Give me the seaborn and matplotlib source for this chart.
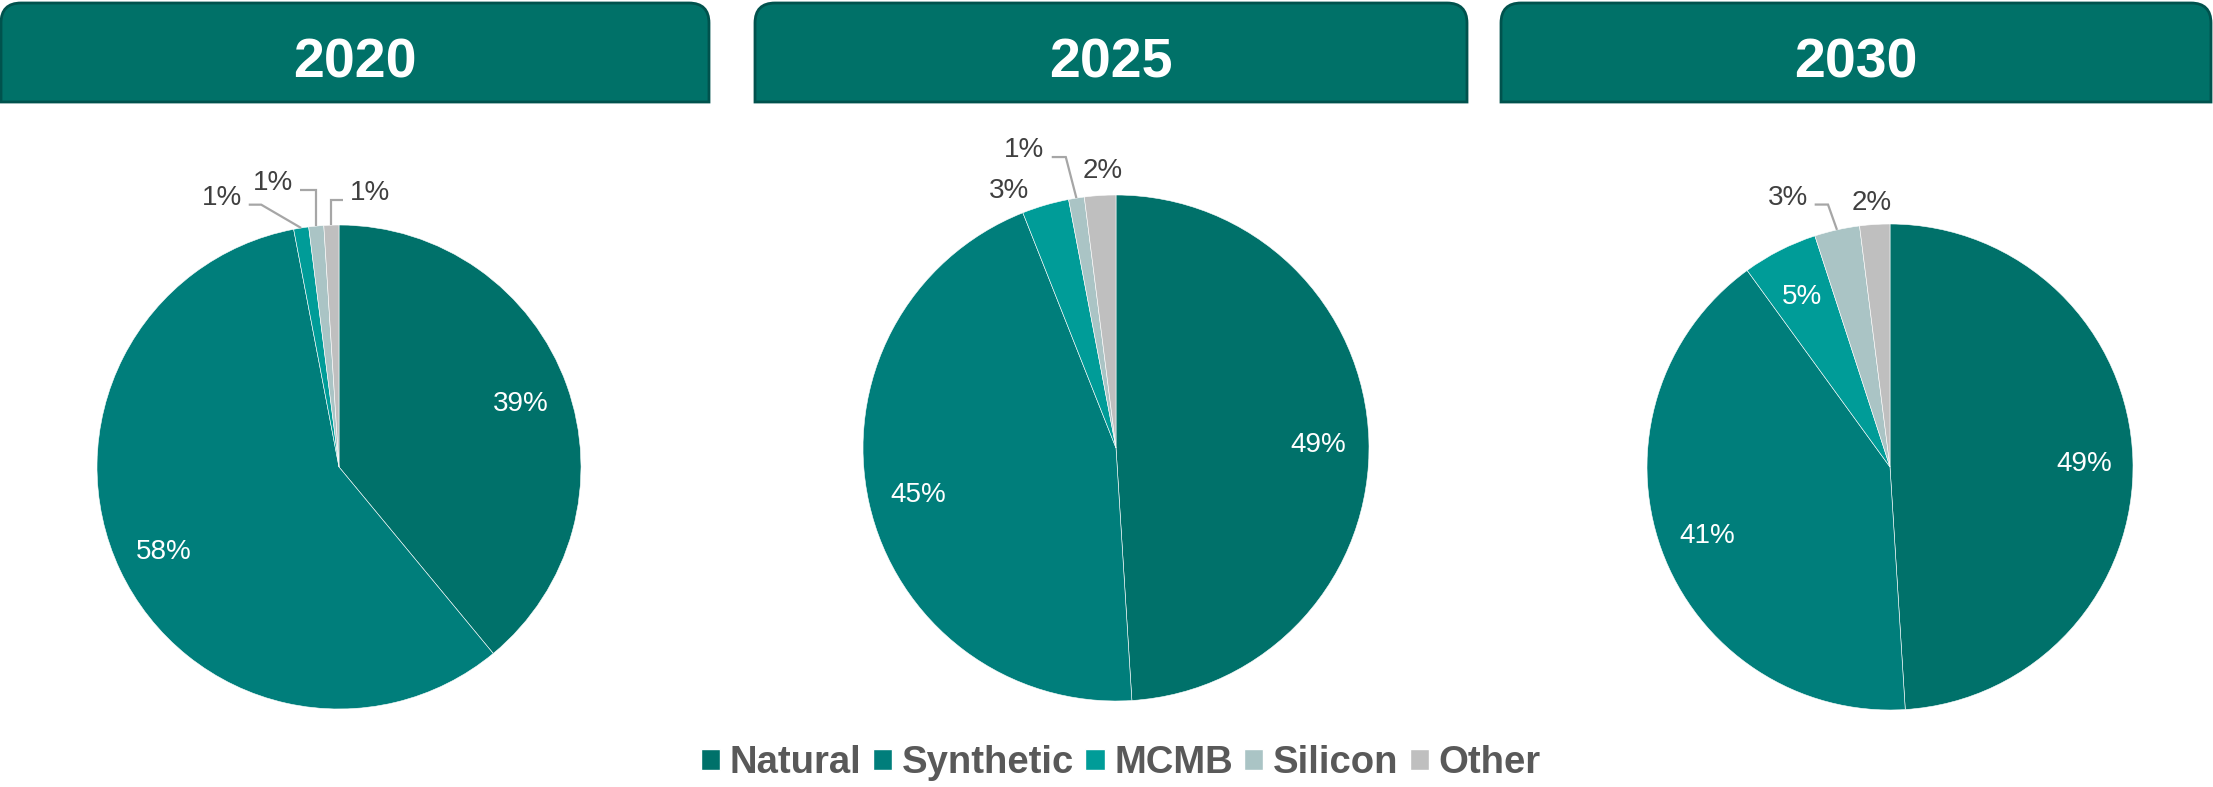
import numpy as np
import matplotlib
matplotlib.use("Agg")
import matplotlib.pyplot as plt
import seaborn as sns
from matplotlib.path import Path
from matplotlib.patches import PathPatch, Patch

# data
categories = ["Natural", "Synthetic", "MCMB", "Silicon", "Other"]
years = ["2020", "2025", "2030"]
share_2020 = [39, 58, 1, 1, 1]
share_2025 = [49, 45, 3, 1, 2]
share_2030 = [49, 41, 5, 3, 2]
colors = ["#00716A", "#007E7B", "#009C98", "#AAC4C5", "#BFBFBF"]

W, H = 2213, 787
sns.set_theme(style="white")
plt.rcParams["font.family"] = ["Liberation Sans", "DejaVu Sans"]
palette = sns.color_palette(colors)

fig = plt.figure(figsize=(W / 100, H / 100), dpi=100)
ax = fig.add_axes([0, 0, 1, 1])

# layout in pixels (y from top)
pie_centers = [(339, 467), (1116, 448), (1890, 467)]
pie_radii = [242, 253, 243]
header_spans = [(1, 709), (755, 1467), (1501, 2211)]
header_top, header_bottom = 3, 102

# outside labels: (x, y, elbow shift) in radius units, None = no leader
outside = [
    {"MCMB": (-0.483, 1.124, -0.165), "Silicon": (-0.273, 1.186, 0.0), "Other": (0.128, 1.145, 0.0)},
    {"MCMB": (-0.423, 1.028, None), "Silicon": (-0.364, 1.19, -0.042), "Other": (-0.051, 1.107, None)},
    {"Silicon": (-0.42, 1.12, -0.037), "Other": (-0.074, 1.099, None)},
]
cap = 10  # half cap height of the pct labels, px


def top_rounded(x0, x1, y0, y1, k):
    verts = [(x0, y0), (x0, y1 - k), (x0, y1), (x0 + k, y1), (x1 - k, y1),
             (x1, y1), (x1, y1 - k), (x1, y0), (x0, y0)]
    codes = [Path.MOVETO, Path.LINETO, Path.CURVE3, Path.CURVE3, Path.LINETO,
             Path.CURVE3, Path.CURVE3, Path.LINETO, Path.CLOSEPOLY]
    return Path(verts, codes)


for i, (year, vals) in enumerate(zip(years, [share_2020, share_2025, share_2030])):
    cx, cy = pie_centers[i]
    cy = H - cy
    r = pie_radii[i]
    wedges, _ = ax.pie(vals, colors=palette, startangle=90, counterclock=False,
                       center=(cx, cy), radius=r,
                       wedgeprops=dict(edgecolor="white", linewidth=0.4))
    for cat, v, w in zip(categories, vals, wedges):
        mid = np.deg2rad((w.theta1 + w.theta2) / 2)
        ux, uy = np.cos(mid), np.sin(mid)
        if cat in outside[i]:
            lx, ly, edx = outside[i][cat]
            ax.text(cx + lx * r, cy + ly * r - cap, f"{v}%", ha="center", va="baseline",
                    fontsize=20, color="#404040")
            if edx is not None:
                s = 1 if ux + edx > lx else -1
                yl = ly - 0.04
                xs = np.array([lx + s * 0.11, ux + edx, ux])
                ys = np.array([yl, yl, uy])
                ax.plot(cx + xs * r, cy + ys * r, color="#A6A6A6", lw=1.6,
                        solid_joinstyle="miter", solid_capstyle="butt")
        else:
            ax.text(cx + 0.8 * ux * r, cy + 0.8 * uy * r - cap, f"{v}%", ha="center",
                    va="baseline", fontsize=20, color="white")

    # header box
    x0, x1 = header_spans[i]
    ax.add_patch(PathPatch(top_rounded(x0, x1, H - header_bottom, H - header_top, 20),
                           facecolor="#007168", edgecolor="#00524D", lw=2))
    ax.text((x0 + x1) / 2, H - 77, year, ha="center", va="baseline", fontsize=40,
            fontweight="bold", color="white")

ax.set_xlim(0, W)
ax.set_ylim(0, H)
ax.set_aspect("equal")
ax.axis("off")

handles = [Patch(facecolor=c, label=cat) for c, cat in zip(palette, categories)]
leg = fig.legend(handles=handles, loc="center", bbox_to_anchor=(1121 / W, 1 - 763 / H),
                 ncol=5, frameon=False, handlelength=0.5, handleheight=0.5,
                 handletextpad=0.25, columnspacing=0.3,
                 prop=dict(weight="bold", size=27.5))
for t in leg.get_texts():
    t.set_color("#595959")

fig.savefig("out.png", dpi=100)
